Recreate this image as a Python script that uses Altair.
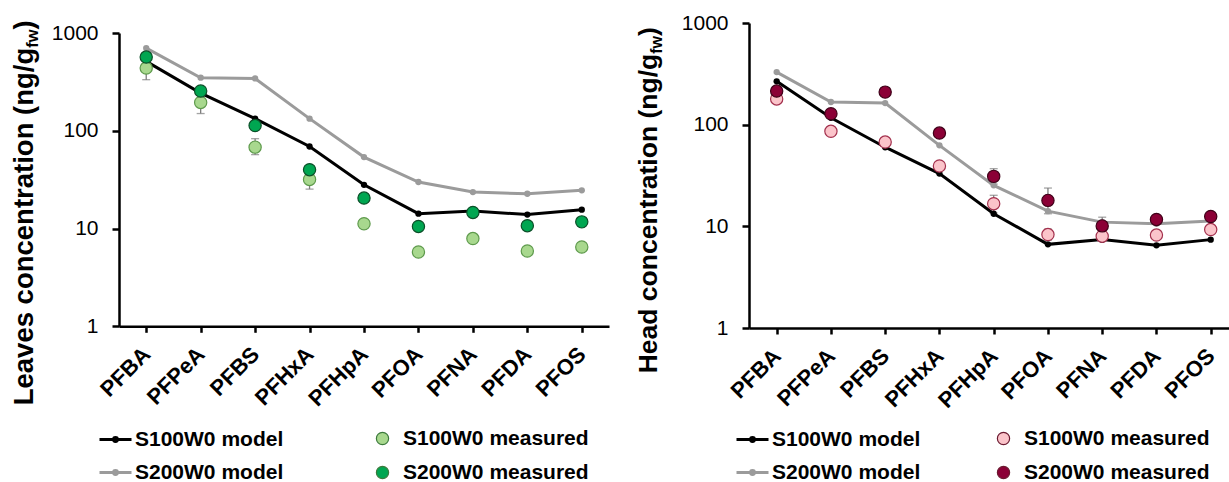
import json
import altair as alt
import pandas as pd

FONT = "Liberation Sans"

compounds = ["PFBA", "PFPeA", "PFBS", "PFHxA", "PFHpA", "PFOA", "PFNA", "PFDA", "PFOS"]

# ---- Leaves panel values (ng/g fw) ----
leaves_s100_model = [513, 243, 133, 69, 28, 14.2, 15.1, 13.9, 15.6]
leaves_s200_model = [701, 349, 343, 133, 53.8, 29.9, 23.6, 22.7, 24.6]
leaves_s100_meas = [438, 195, 68, 31.8, 11.2, 5.75, 7.9, 5.89, 6.47]
leaves_s200_meas = [567, 255, 113, 40, 20.5, 10.5, 14.6, 10.7, 11.7]
leaves_s100_err_low = [333, 150, 57, 25.3, None, None, None, None, None]
leaves_s100_err_high = [545, 240, 83, 38, None, None, None, None, None]

# ---- Head panel values (ng/g fw) ----
head_s100_model = [267, 117, 60, 33, 13.3, 6.65, 7.4, 6.5, 7.4]
head_s200_model = [329, 167, 163, 62.6, 25.3, 14.1, 11.0, 10.6, 11.3]
head_s100_meas = [179, 86, 67.4, 39.2, 16.7, 8.3, 8.0, 8.2, 9.3]
head_s200_meas = [214, 128, 209, 82.7, 31, 18, 10.1, 11.7, 12.5]
head_s100_err_low = [None, None, None, None, 13.5, 7.3, None, None, None]
head_s100_err_high = [None, None, None, None, 20.2, 9.4, None, None, None]
head_s200_err_low = [None, None, None, None, 26, 13.3, 8.5, None, None]
head_s200_err_high = [None, None, None, None, 36.9, 23.8, 12.3, None, None]

model_names = ["S100W0 model", "S200W0 model"]
meas_names = ["S100W0 measured", "S200W0 measured"]
model_colors = ["#000000", "#9b9b9b"]

# Arial/Liberation Sans Bold advance widths (per 1000 em), used to place the subscript
BOLD_W = {" ": 278, "(": 333, ")": 333, "/": 278, "L": 611, "H": 722, "a": 556, "c": 556,
          "d": 611, "e": 556, "f": 333, "g": 611, "i": 278, "n": 611, "o": 611, "r": 389,
          "s": 556, "t": 333, "v": 556, "w": 778}


def text_width(s, size):
    return sum(BOLD_W[ch] for ch in s) / 1000.0 * size


LABEL_EXPR = json.dumps(compounds) + "[datum.value]"


def panel(m100, m200, s100, s200, errs, fill_colors, stroke_colors, legend_stroke,
          title_main, title_size, sub_size, title_x, title_bottom,
          width, height, y_top, x_domain, leg1_x, leg2_x):
    models = pd.DataFrame({
        "i": list(range(9)) * 2,
        "series": [model_names[0]] * 9 + [model_names[1]] * 9,
        "v": m100 + m200,
    })
    meas1 = pd.DataFrame({"i": list(range(9)), "series": meas_names[0], "v": s100})
    meas2 = pd.DataFrame({"i": list(range(9)), "series": meas_names[1], "v": s200})
    err_rows = []
    for lows, highs in errs:
        for k in range(9):
            if lows[k] is not None:
                err_rows.append({"i": k, "v": lows[k], "hi": highs[k]})
    err = pd.DataFrame(err_rows)

    x = alt.X("i:Q", scale=alt.Scale(domain=x_domain, nice=False, zero=False),
              axis=alt.Axis(values=list(range(9)), labelExpr=LABEL_EXPR, title=None, grid=False,
                            labelAngle=-45, labelAlign="right", labelBaseline="middle",
                            labelOverlap=False, labelFontSize=22, labelFontWeight="bold",
                            labelFont=FONT, labelColor="black", labelPadding=18, tickSize=6,
                            tickWidth=2.5, tickColor="black", domainColor="black",
                            domainWidth=2.5, labelLimit=0))
    yscale = alt.Scale(type="log", domain=[1, 1000], range=[height, y_top], nice=False)
    yaxis = alt.Axis(values=[1, 10, 100, 1000], format="d", title=None, grid=False,
                     labelFontSize=21, labelFont=FONT, labelColor="black",
                     labelPadding=14, tickSize=7, tickWidth=2.5, tickColor="black",
                     domainColor="black", domainWidth=2.5)
    y = alt.Y("v:Q", scale=yscale, axis=yaxis)

    color = alt.Color("series:N",
                      scale=alt.Scale(domain=model_names, range=model_colors),
                      legend=alt.Legend(
                          orient="none", legendX=leg1_x, legendY=399, title=None,
                          direction="vertical",
                          symbolType="M-1,0L1,0M-0.12,0A0.12,0.12,0,1,1,0.12,0A0.12,0.12,0,1,1,-0.12,0",
                          symbolSize=1024, symbolStrokeWidth=3, labelOffset=2, rowPadding=5,
                          padding=0, labelFontSize=21, labelFontWeight="bold", labelFont=FONT,
                          labelColor="black", labelLimit=0))
    fill = alt.Fill("series:N",
                    scale=alt.Scale(domain=meas_names, range=fill_colors),
                    legend=alt.Legend(
                        orient="none", legendX=leg2_x, legendY=405, title=None,
                        direction="vertical",
                        symbolType="circle", symbolSize=150, symbolStrokeWidth=1.2,
                        symbolStrokeColor=legend_stroke, labelOffset=10, rowPadding=12,
                        padding=0, labelFontSize=21, labelFontWeight="bold", labelFont=FONT,
                        labelColor="black", labelLimit=0))

    whisk = alt.Chart(err).mark_rule(color="#7d7d7d", strokeWidth=1.3).encode(
        x=x, y=y, y2="hi:Q")
    cap_lo = alt.Chart(err).mark_tick(orient="horizontal", size=8, thickness=1.3,
                                      color="#7d7d7d").encode(x=x, y=y)
    cap_hi = alt.Chart(err).mark_tick(orient="horizontal", size=8, thickness=1.3,
                                      color="#7d7d7d").encode(
        x=x, y=alt.Y("hi:Q", scale=yscale, axis=yaxis))

    lines = alt.Chart(models).mark_line(strokeWidth=3).encode(x=x, y=y, color=color)
    markers = alt.Chart(models).mark_circle(size=40, opacity=1).encode(x=x, y=y, color=color)
    pts1 = alt.Chart(meas1).mark_circle(size=150, opacity=1, stroke=stroke_colors[0],
                                        strokeWidth=1.2).encode(x=x, y=y, fill=fill)
    pts2 = alt.Chart(meas2).mark_circle(size=150, opacity=1, stroke=stroke_colors[1],
                                        strokeWidth=1.2).encode(x=x, y=y, fill=fill)

    w_main = text_width(title_main, title_size)
    w_sub = text_width("fw", sub_size)
    t_main = alt.Chart(pd.DataFrame({"t": [title_main]})).mark_text(
        angle=270, align="left", baseline="alphabetic", font=FONT, fontSize=title_size,
        fontWeight="bold", color="black").encode(
        x=alt.value(title_x), y=alt.value(title_bottom), text="t:N")
    t_sub = alt.Chart(pd.DataFrame({"t": ["fw"]})).mark_text(
        angle=270, align="left", baseline="alphabetic", font=FONT, fontSize=sub_size,
        fontWeight="bold", color="black").encode(
        x=alt.value(title_x + 5), y=alt.value(title_bottom - w_main), text="t:N")
    t_end = alt.Chart(pd.DataFrame({"t": [")"]})).mark_text(
        angle=270, align="left", baseline="alphabetic", font=FONT, fontSize=title_size,
        fontWeight="bold", color="black").encode(
        x=alt.value(title_x), y=alt.value(title_bottom - w_main - w_sub), text="t:N")

    return alt.layer(whisk, cap_lo, cap_hi, lines, markers, pts1, pts2,
                     t_main, t_sub, t_end).properties(width=width, height=height)


left = panel(leaves_s100_model, leaves_s200_model, leaves_s100_meas, leaves_s200_meas,
             [(leaves_s100_err_low, leaves_s100_err_high)],
             ["#a8d88e", "#00a651"], ["#5e9a4c", "#0b4f28"], "#3c7a3c",
             "Leaves concentration (ng/g", 27.5, 16.5, -86.5, 382.3,
             490, 303.3, 10, [-0.5, 8.5], -21, 253)

right = panel(head_s100_model, head_s200_model, head_s100_meas, head_s200_meas,
              [(head_s100_err_low, head_s100_err_high), (head_s200_err_low, head_s200_err_high)],
              ["#fbc4ca", "#8b0036"], ["#a3304d", "#3f0018"], "#6b1a30",
              "Head concentration (ng/g", 26.5, 16, -92, 350.3,
              480, 305, 0, [-0.51, 8.337], -14, 244)

chart = alt.hconcat(left, right, spacing=140, bounds="flush").resolve_scale(
    x="independent", y="independent", color="independent", fill="independent"
).resolve_legend(color="independent", fill="independent").configure(
    font=FONT, padding={"left": 10, "top": 12, "right": 0, "bottom": 0}, background="white"
).configure_view(stroke=None).configure_axisY(labelFontSize=21).configure_legend(
    labelFontSize=21)

chart.save("out.html", embed_options={"renderer": "svg", "actions": False})
